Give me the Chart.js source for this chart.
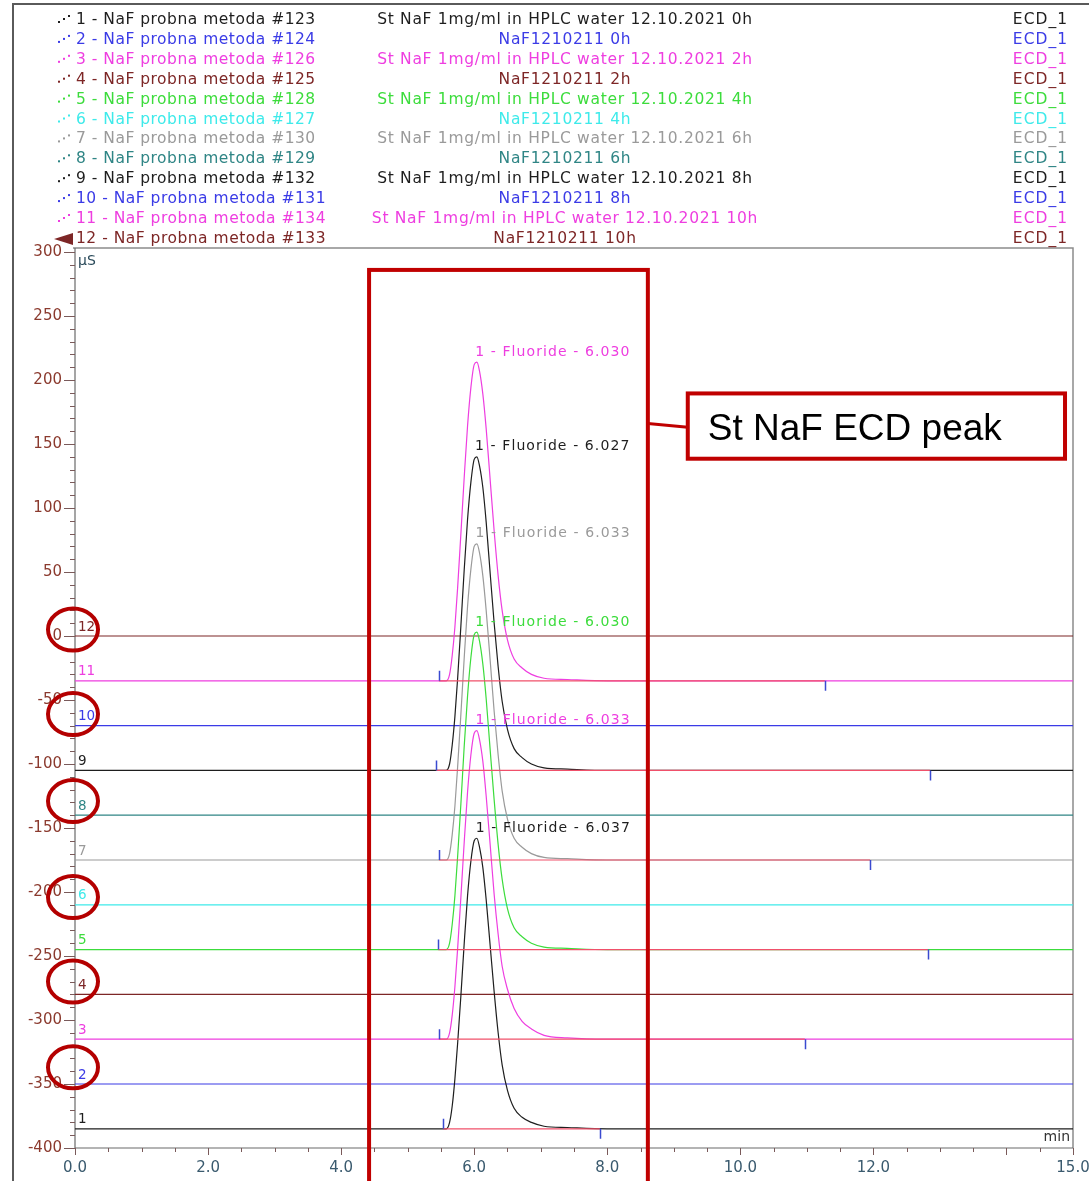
<!DOCTYPE html>
<html>
<head>
<meta charset="utf-8">
<script src="https://cdn.jsdelivr.net/npm/chart.js@4.4.1/dist/chart.umd.min.js"></script>
<style>
  html, body { margin: 0; padding: 0; background: #fff; }
  #chart { display: block; }
</style>
</head>
<body>
<canvas id="chart" width="1089" height="1181"></canvas>
<script>
// header rows, one per trace
const traceNames = [
  '1 - NaF probna metoda #123', '2 - NaF probna metoda #124', '3 - NaF probna metoda #126',
  '4 - NaF probna metoda #125', '5 - NaF probna metoda #128', '6 - NaF probna metoda #127',
  '7 - NaF probna metoda #130', '8 - NaF probna metoda #129', '9 - NaF probna metoda #132',
  '10 - NaF probna metoda #131', '11 - NaF probna metoda #134', '12 - NaF probna metoda #133'
];
const sampleNames = [
  'St NaF 1mg/ml in HPLC water 12.10.2021 0h', 'NaF1210211 0h',
  'St NaF 1mg/ml in HPLC water 12.10.2021 2h', 'NaF1210211 2h',
  'St NaF 1mg/ml in HPLC water 12.10.2021 4h', 'NaF1210211 4h',
  'St NaF 1mg/ml in HPLC water 12.10.2021 6h', 'NaF1210211 6h',
  'St NaF 1mg/ml in HPLC water 12.10.2021 8h', 'NaF1210211 8h',
  'St NaF 1mg/ml in HPLC water 12.10.2021 10h', 'NaF1210211 10h'
];
const channels = ['ECD_1', 'ECD_1', 'ECD_1', 'ECD_1', 'ECD_1', 'ECD_1',
                  'ECD_1', 'ECD_1', 'ECD_1', 'ECD_1', 'ECD_1', 'ECD_1'];
const traceColors = ['#1e1e1e', '#3b3be6', '#ee3ee0', '#7d2626', '#3cdc3c', '#3eeaea',
                     '#9a9a9a', '#2f8585', '#1e1e1e', '#3b3be6', '#ee3ee0', '#7d2626'];

// offset of every trace in the overlay (µS)
const baselines = [-385, -350, -315, -280, -245, -210, -175, -140, -105, -70, -35, 0];

// flat traces (samples)
const flatTimes = [0, 15];
const flatSignal = [0, 0];

// peaked traces (standards), signal above own baseline
const peakTraces = [1, 3, 5, 7, 9, 11];
const peakTimes = [0, 5.45, 5.58, 5.63, 5.67, 5.71, 5.75, 5.80, 5.85, 5.90, 5.95, 6.00, 6.04, 6.08,
                   6.13, 6.18, 6.24, 6.30, 6.36, 6.42, 6.50, 6.60, 6.72, 6.86, 7.05, 7.40, 8.00, 15];
const signal1  = [0, 0, 0, 5, 18, 39, 66, 104, 145, 182, 209, 225, 227, 220, 204, 179, 143, 107, 75, 50, 30, 16, 9, 5, 2, 1, 0, 0];
const signal3  = [0, 0, 0, 5, 19, 41, 70, 111, 154, 193, 222, 239, 241, 234, 217, 190, 152, 113, 82, 57, 39, 24, 14, 8, 3, 1, 0, 0];
const signal5  = [0, 0, 0, 5, 20, 42, 72, 114, 159, 198, 228, 246, 248, 241, 223, 196, 156, 117, 82, 55, 32, 17, 10, 5, 2, 1, 0, 0];
const signal7  = [0, 0, 0, 5, 20, 42, 72, 114, 158, 198, 227, 245, 247, 240, 222, 195, 156, 116, 82, 54, 32, 17, 10, 5, 2, 1, 0, 0];
const signal9  = [0, 0, 0, 5, 20, 42, 71, 113, 157, 196, 225, 243, 245, 238, 221, 194, 154, 115, 81, 54, 32, 17, 10, 5, 2, 1, 0, 0];
const signal11 = [0, 0, 0, 5, 20, 42, 72, 115, 159, 199, 229, 247, 249, 242, 224, 197, 157, 117, 82, 55, 32, 17, 10, 5, 2, 1, 0, 0];
const peakSignals = [signal1, signal3, signal5, signal7, signal9, signal11];
const retentionTimes = [6.037, 6.033, 6.030, 6.033, 6.027, 6.030];
const integStart = [5.53, 5.47, 5.46, 5.47, 5.43, 5.47];
const integEnd = [7.89, 10.97, 12.82, 11.95, 12.85, 11.27];

// red circles drawn round the sample trace numbers
const circledTraces = [12, 10, 8, 6, 4, 2];
const circleCenters = [5, -61, -129, -204, -270, -337];

const xTickValues = [0, 2, 4, 6, 8, 10, 12, 15];
const xMajorMarks = [0, 2, 4, 6, 8, 10, 12, 14, 15];

const FONT = '"DejaVu Sans", "Liberation Sans", sans-serif';

let datasets = [];
traceNames.forEach((name, i) => {
  const n = i + 1;
  const k = peakTraces.indexOf(n);
  const times = k >= 0 ? peakTimes : flatTimes;
  const sig = k >= 0 ? peakSignals[k] : flatSignal;
  datasets.push({
    label: name,
    data: times.map((t, j) => ({ x: t, y: baselines[i] + sig[j] })),
    borderColor: traceColors[i],
    borderWidth: 1.2,
    pointRadius: 0,
    cubicInterpolationMode: 'monotone',
    order: 2
  });
});
peakTraces.forEach((n, k) => {
  const b = baselines[n - 1];
  datasets.push({
    label: 'baseline ' + n,
    data: [{ x: integStart[k], y: b }, { x: integEnd[k], y: b }],
    borderColor: '#f0506a',
    borderWidth: 1.2,
    pointRadius: 0,
    order: 1
  });
});

let txt = (ctx, s, x, y, color, size, align, spacing, family) => {
  ctx.font = size + 'px ' + (family || FONT);
  ctx.fillStyle = color;
  ctx.textAlign = align || 'left';
  ctx.textBaseline = 'middle';
  ctx.letterSpacing = (spacing || 0) + 'px';
  ctx.fillText(s, x, y);
};

const deco = {
  id: 'deco',
  beforeDatasetsDraw(chart) {
    const { ctx, chartArea: a, scales: { x, y } } = chart;
    ctx.save();
    // outer frame
    ctx.strokeStyle = '#5a5a5a';
    ctx.lineWidth = 2;
    ctx.beginPath();
    ctx.moveTo(13, 1181); ctx.lineTo(13, 4); ctx.lineTo(1089, 4);
    ctx.stroke();
    // plot box
    ctx.strokeStyle = '#8c8c8c';
    ctx.lineWidth = 1.5;
    ctx.beginPath();
    ctx.moveTo(a.left - 2, a.top - 4); ctx.lineTo(a.right, a.top - 4); ctx.lineTo(a.right, a.bottom);
    ctx.stroke();
    ctx.strokeStyle = '#6a6a6a';
    ctx.lineWidth = 1.2;
    ctx.beginPath();
    ctx.moveTo(a.left, a.top - 4); ctx.lineTo(a.left, a.bottom); ctx.lineTo(a.right, a.bottom);
    ctx.stroke();
    // y ticks, minor every 10
    ctx.strokeStyle = '#7a5a5a';
    ctx.lineWidth = 1;
    ctx.beginPath();
    for (let v = -400; v <= 300; v += 10) {
      const py = Math.round(y.getPixelForValue(v)) + 0.5;
      const len = v % 50 === 0 ? 11 : 5;
      ctx.moveTo(a.left - len, py); ctx.lineTo(a.left, py);
    }
    // x ticks, minor every 0.5
    for (let v = 0; v <= 15; v += 0.5) {
      const px = Math.round(x.getPixelForValue(v)) + 0.5;
      const len = xMajorMarks.includes(v) ? 7 : 4;
      ctx.moveTo(px, a.bottom); ctx.lineTo(px, a.bottom + len);
    }
    ctx.stroke();
    ctx.restore();
  },
  afterDraw(chart) {
    const { ctx, chartArea: a, scales: { x, y } } = chart;
    ctx.save();

    // header
    traceNames.forEach((name, i) => {
      const ry = 20 + i * 19.9;
      const c = traceColors[i];
      txt(ctx, name, 76, ry, c, 15.5, 'left', 0.5);
      txt(ctx, sampleNames[i], 565, ry, c, 15.5, 'center', 0.7);
      txt(ctx, channels[i], 1068, ry, c, 15.5, 'right', 1);
      ctx.fillStyle = c;
      if (i === 11) {
        ctx.beginPath();
        ctx.moveTo(54, ry); ctx.lineTo(73, ry - 6); ctx.lineTo(73, ry + 6);
        ctx.closePath(); ctx.fill();
      } else {
        ctx.fillRect(58, ry + 1, 2, 2);
        ctx.fillRect(63, ry - 2, 2, 2);
        ctx.fillRect(68, ry - 5, 2, 2);
      }
    });

    // unit labels
    txt(ctx, 'µS', a.left + 3, a.top + 9, '#2a4a5a', 14);
    txt(ctx, 'min', a.right - 3, a.bottom - 11, '#333', 14, 'right');

    // trace numbers
    baselines.forEach((b, i) => {
      txt(ctx, String(i + 1), a.left + 3, y.getPixelForValue(b) - 9, traceColors[i], 13.5);
    });

    // integration marks and peak labels
    ctx.strokeStyle = '#3a4ad0';
    ctx.lineWidth = 1.5;
    peakTraces.forEach((n, k) => {
      const yb = y.getPixelForValue(baselines[n - 1]);
      const xs = Math.round(x.getPixelForValue(integStart[k])) + 0.5;
      const xe = Math.round(x.getPixelForValue(integEnd[k])) + 0.5;
      ctx.beginPath();
      ctx.moveTo(xs, yb); ctx.lineTo(xs, yb - 10);
      ctx.moveTo(xe, yb); ctx.lineTo(xe, yb + 10);
      ctx.stroke();
      const top = baselines[n - 1] + Math.max(...peakSignals[k]);
      txt(ctx, '1 - Fluoride - ' + retentionTimes[k].toFixed(3),
          x.getPixelForValue(retentionTimes[k]) - 1, y.getPixelForValue(top) - 10,
          traceColors[n - 1], 14, 'left', 1.1);
    });

    // red annotation
    ctx.strokeStyle = '#c00000';
    ctx.lineWidth = 4;
    const rl = x.getPixelForValue(4.42), rr = x.getPixelForValue(8.61);
    const rt = y.getPixelForValue(286);
    ctx.strokeRect(rl, rt, rr - rl, chart.height + 20 - rt);

    const bl = x.getPixelForValue(9.21), br = x.getPixelForValue(14.88);
    const bt = y.getPixelForValue(189.5), bb = y.getPixelForValue(138.5);
    ctx.fillStyle = '#fff';
    ctx.fillRect(bl, bt, br - bl, bb - bt);
    ctx.strokeRect(bl, bt, br - bl, bb - bt);
    ctx.lineWidth = 3;
    ctx.beginPath();
    ctx.moveTo(rr, y.getPixelForValue(166));
    ctx.lineTo(bl, y.getPixelForValue(163));
    ctx.stroke();
    ctx.font = '37px "Liberation Sans", Arial, sans-serif';
    ctx.letterSpacing = '0px';
    ctx.fillStyle = '#000';
    ctx.textAlign = 'left';
    ctx.textBaseline = 'alphabetic';
    ctx.fillText('St NaF ECD peak', x.getPixelForValue(9.51), y.getPixelForValue(153));

    // circles round the sample numbers
    ctx.strokeStyle = '#b40000';
    ctx.lineWidth = 4;
    circleCenters.forEach(v => {
      ctx.beginPath();
      ctx.ellipse(x.getPixelForValue(0) - 2, y.getPixelForValue(v), 25, 21, 0, 0, Math.PI * 2);
      ctx.stroke();
    });

    ctx.restore();
  }
};

let ctx = document.querySelector('#chart').getContext('2d');
const chart = new Chart(ctx, {
  type: 'line',
  data: { datasets: datasets },
  options: {
    responsive: false,
    animation: false,
    devicePixelRatio: 1,
    layout: { padding: { top: 252, right: 16, left: 0, bottom: 0 } },
    plugins: { legend: { display: false }, tooltip: { enabled: false } },
    scales: {
      x: {
        type: 'linear',
        min: 0,
        max: 15,
        grid: { display: false, drawTicks: false },
        border: { display: false },
        afterBuildTicks: s => { s.ticks = xTickValues.map(v => ({ value: v })); },
        afterFit: s => { s.height = 33; s.paddingLeft = 0; s.paddingRight = 0; },
        ticks: {
          autoSkip: false, maxRotation: 0, padding: 11, color: '#3a5a6e',
          font: { family: FONT, size: 15 },
          callback: v => Number(v).toFixed(1)
        }
      },
      y: {
        type: 'linear',
        min: -400,
        max: 300,
        grid: { display: false, drawTicks: false },
        border: { display: false },
        afterFit: s => { s.width = 75; s.paddingTop = 0; s.paddingBottom = 0; },
        ticks: {
          stepSize: 50, padding: 13, color: '#8b3a2e',
          font: { family: FONT, size: 15 },
          callback: v => String(v)
        }
      }
    }
  },
  plugins: [deco]
});
</script>
</body>
</html>
